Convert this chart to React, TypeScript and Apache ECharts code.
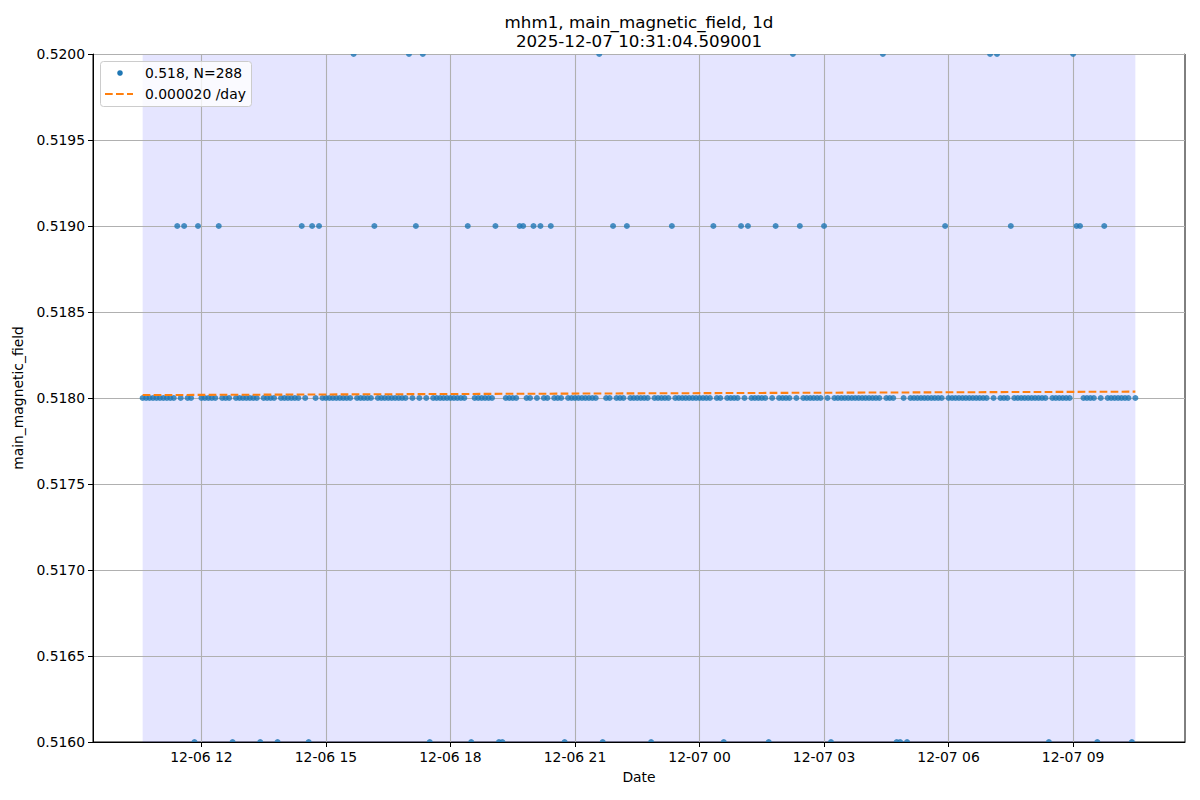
import React, { useEffect, useRef } from 'react';
import * as echarts from 'echarts';

const TITLE_LINE_1 = 'mhm1, main_magnetic_field, 1d';
const TITLE_LINE_2 = '2025-12-07 10:31:04.509001';
const Y_NAME = 'main_magnetic_field';
const X_NAME = 'Date';
const SCATTER_LABEL = '0.518, N=288';
const TREND_LABEL = '0.000020 /day';

// first sample 2025-12-06 10:35, one sample every 5 minutes
const START_TIME = Date.UTC(2025, 11, 6, 10, 35);
const STEP_MS = 5 * 60 * 1000;

// one row per hour (12 samples each), 24 rows = 288 samples
const VALUES: number[] = [
  0.518, 0.518, 0.518, 0.518, 0.518, 0.518, 0.518, 0.518, 0.518, 0.518, 0.519, 0.518,
  0.519, 0.518, 0.518, 0.516, 0.519, 0.518, 0.518, 0.518, 0.518, 0.518, 0.519, 0.518,
  0.518, 0.518, 0.516, 0.518, 0.518, 0.518, 0.518, 0.518, 0.518, 0.518, 0.516, 0.518,
  0.518, 0.518, 0.518, 0.516, 0.518, 0.518, 0.518, 0.518, 0.518, 0.518, 0.519, 0.518,
  0.516, 0.519, 0.518, 0.519, 0.518, 0.518, 0.518, 0.518, 0.518, 0.518, 0.518, 0.518,
  0.518, 0.520, 0.518, 0.518, 0.518, 0.518, 0.518, 0.519, 0.518, 0.518, 0.518, 0.518,
  0.518, 0.518, 0.518, 0.518, 0.518, 0.520, 0.518, 0.519, 0.518, 0.520, 0.518, 0.516,
  0.518, 0.518, 0.518, 0.518, 0.518, 0.518, 0.518, 0.518, 0.518, 0.518, 0.519, 0.516,
  0.518, 0.518, 0.518, 0.518, 0.518, 0.518, 0.519, 0.516, 0.516, 0.518, 0.518, 0.518,
  0.518, 0.519, 0.519, 0.518, 0.518, 0.519, 0.518, 0.519, 0.518, 0.518, 0.519, 0.518,
  0.518, 0.518, 0.516, 0.518, 0.518, 0.518, 0.518, 0.518, 0.518, 0.518, 0.518, 0.518,
  0.520, 0.516, 0.518, 0.518, 0.519, 0.518, 0.518, 0.518, 0.519, 0.518, 0.518, 0.518,
  0.518, 0.518, 0.518, 0.516, 0.518, 0.518, 0.518, 0.518, 0.518, 0.519, 0.518, 0.518,
  0.518, 0.518, 0.518, 0.518, 0.518, 0.518, 0.518, 0.518, 0.518, 0.519, 0.518, 0.518,
  0.516, 0.518, 0.518, 0.518, 0.518, 0.519, 0.518, 0.519, 0.518, 0.518, 0.518, 0.518,
  0.518, 0.516, 0.518, 0.519, 0.518, 0.518, 0.518, 0.518, 0.520, 0.518, 0.519, 0.518,
  0.518, 0.518, 0.518, 0.518, 0.518, 0.519, 0.518, 0.516, 0.518, 0.518, 0.518, 0.518,
  0.518, 0.518, 0.518, 0.518, 0.518, 0.518, 0.518, 0.518, 0.518, 0.518, 0.520, 0.518,
  0.518, 0.518, 0.516, 0.516, 0.518, 0.516, 0.518, 0.518, 0.518, 0.518, 0.518, 0.518,
  0.518, 0.518, 0.518, 0.518, 0.519, 0.518, 0.518, 0.518, 0.518, 0.518, 0.518, 0.518,
  0.518, 0.518, 0.518, 0.518, 0.518, 0.520, 0.518, 0.520, 0.518, 0.518, 0.518, 0.519,
  0.518, 0.518, 0.518, 0.518, 0.518, 0.518, 0.518, 0.518, 0.518, 0.518, 0.516, 0.518,
  0.518, 0.518, 0.518, 0.518, 0.518, 0.520, 0.519, 0.519, 0.518, 0.518, 0.518, 0.518,
  0.516, 0.518, 0.519, 0.518, 0.518, 0.518, 0.518, 0.518, 0.518, 0.518, 0.516, 0.518,
];

// trend line value at first and last sample
const TREND_VALUES = [0.518017, 0.518037];

const X_TICKS = [
  Date.UTC(2025, 11, 6, 12),
  Date.UTC(2025, 11, 6, 15),
  Date.UTC(2025, 11, 6, 18),
  Date.UTC(2025, 11, 6, 21),
  Date.UTC(2025, 11, 7, 0),
  Date.UTC(2025, 11, 7, 3),
  Date.UTC(2025, 11, 7, 6),
  Date.UTC(2025, 11, 7, 9),
];

const Y_MIN = 0.516;
const Y_MAX = 0.52;
const Y_STEP = 0.0005;

const FONT = 'DejaVu Sans';

const pad = (n: number) => (n < 10 ? '0' + n : '' + n);

export default function App() {
  const ref = useRef<HTMLDivElement>(null);

  useEffect(() => {
    if (!ref.current) return;
    const chart = echarts.init(ref.current, undefined, { renderer: 'svg' });

    const times = VALUES.map((_, i) => START_TIME + i * STEP_MS);
    const t0 = times[0];
    const t1 = times[times.length - 1];
    const span = t1 - t0;
    const xMin = t0 - span * 0.05;
    const xMax = t1 + span * 0.05;

    const scatterData = VALUES.map((v, i) => [times[i], v]);
    const trendData = [
      [t0, TREND_VALUES[0]],
      [t1, TREND_VALUES[1]],
    ];

    const plotLeft = 93;
    const plotTop = 54;
    const plotW = 1092;
    const plotH = 688;

    const tickFmt = (v: number) => {
      const d = new Date(v);
      return `${pad(d.getUTCMonth() + 1)}-${pad(d.getUTCDate())} ${pad(d.getUTCHours())}`;
    };

    chart.setOption({
      animation: false,
      backgroundColor: '#ffffff',
      textStyle: { fontFamily: FONT },
      grid: {
        left: plotLeft,
        top: plotTop,
        width: plotW,
        height: plotH,
        show: true,
        borderColor: '#000000',
        borderWidth: 1,
        backgroundColor: 'transparent',
      },
      xAxis: [
        {
          type: 'value',
          min: xMin,
          max: xMax,
          position: 'bottom',
          z: 10,
          name: X_NAME,
          nameLocation: 'middle',
          nameGap: 28,
          nameTextStyle: { fontFamily: FONT, fontSize: 13.9, color: '#000' },
          axisLine: { show: true, onZero: false, lineStyle: { color: '#000', width: 1 } },
          axisTick: {
            show: true,
            length: 5,
            lineStyle: { color: '#000', width: 1 },
            customValues: X_TICKS,
          },
          axisLabel: {
            customValues: X_TICKS,
            margin: 8,
            fontFamily: FONT,
            fontSize: 13.9,
            color: '#000',
            formatter: tickFmt,
          },
          splitLine: { show: false },
        },
        {
          type: 'value',
          min: xMin,
          max: xMax,
          position: 'top',
          z: 2,
          axisLine: { show: false },
          axisTick: { show: false, customValues: X_TICKS },
          axisLabel: { show: false, customValues: X_TICKS },
          splitLine: { show: true, lineStyle: { color: '#b0b0b0', width: 1.1 } },
        },
      ],
      yAxis: {
        type: 'value',
        min: Y_MIN,
        max: Y_MAX,
        interval: Y_STEP,
        z: 2,
        name: Y_NAME,
        nameLocation: 'middle',
        nameGap: 61,
        nameRotate: 90,
        nameTextStyle: { fontFamily: FONT, fontSize: 13.9, color: '#000' },
        axisLine: { show: true, lineStyle: { color: '#000', width: 1 } },
        axisTick: { show: true, length: 5, lineStyle: { color: '#000', width: 1 } },
        axisLabel: {
          margin: 8,
          fontFamily: FONT,
          fontSize: 13.9,
          color: '#000',
          formatter: (v: number) => v.toFixed(4),
        },
        splitLine: { show: true, lineStyle: { color: '#b0b0b0', width: 1.1 } },
      },
      series: [
        {
          name: SCATTER_LABEL,
          type: 'scatter',
          xAxisIndex: 0,
          data: scatterData,
          symbol: 'circle',
          symbolSize: 6,
          itemStyle: { color: '#1f77b4' },
          clip: true,
          z: 3,
          markArea: {
            silent: true,
            z: 1,
            itemStyle: { color: 'rgba(0,0,255,0.1)' },
            data: [[{ xAxis: t0 }, { xAxis: t1 }]],
          },
        },
        {
          name: TREND_LABEL,
          type: 'line',
          xAxisIndex: 0,
          data: trendData,
          showSymbol: false,
          symbol: 'none',
          z: 4,
          lineStyle: { color: '#ff7f0e', width: 2.08, type: [7.7, 3.3] },
        },
      ],
      graphic: [
        {
          type: 'rect',
          z: 5,
          silent: true,
          shape: { x: plotLeft + 0.5, y: plotTop - 8, width: plotW - 1, height: 8 },
          style: { fill: '#ffffff' },
        },
        {
          type: 'rect',
          z: 5,
          silent: true,
          shape: { x: plotLeft + 0.5, y: plotTop + plotH + 0.5, width: plotW - 1, height: 7 },
          style: { fill: '#ffffff' },
        },
        {
          type: 'text',
          z: 11,
          style: {
            text: TITLE_LINE_1,
            x: 639,
            y: 22,
            align: 'center',
            verticalAlign: 'middle',
            fontFamily: FONT,
            fontSize: 16.7,
            fill: '#000',
          },
        },
        {
          type: 'text',
          z: 11,
          style: {
            text: TITLE_LINE_2,
            x: 639,
            y: 41,
            align: 'center',
            verticalAlign: 'middle',
            fontFamily: FONT,
            fontSize: 16.7,
            fill: '#000',
          },
        },
        {
          type: 'rect',
          z: 10,
          shape: { x: 100.5, y: 61.5, width: 151, height: 45, r: 3 },
          style: { fill: 'rgba(255,255,255,0.8)', stroke: '#cccccc', lineWidth: 1 },
        },
        {
          type: 'circle',
          z: 11,
          shape: { cx: 120, cy: 73, r: 2.8 },
          style: { fill: '#1f77b4' },
        },
        {
          type: 'text',
          z: 11,
          style: {
            text: SCATTER_LABEL,
            x: 145,
            y: 73,
            verticalAlign: 'middle',
            fontFamily: FONT,
            fontSize: 13.9,
            fill: '#000',
          },
        },
        {
          type: 'line',
          z: 11,
          shape: { x1: 105, y1: 94, x2: 133, y2: 94 },
          style: { stroke: '#ff7f0e', lineWidth: 2.08, lineDash: [7.7, 3.3] },
        },
        {
          type: 'text',
          z: 11,
          style: {
            text: TREND_LABEL,
            x: 145,
            y: 94,
            verticalAlign: 'middle',
            fontFamily: FONT,
            fontSize: 13.9,
            fill: '#000',
          },
        },
      ],
    });

    return () => chart.dispose();
  }, []);

  return (
    <div
      ref={ref}
      style={{ position: 'absolute', left: 0, top: 0, width: 1200, height: 800 }}
    />
  );
}
